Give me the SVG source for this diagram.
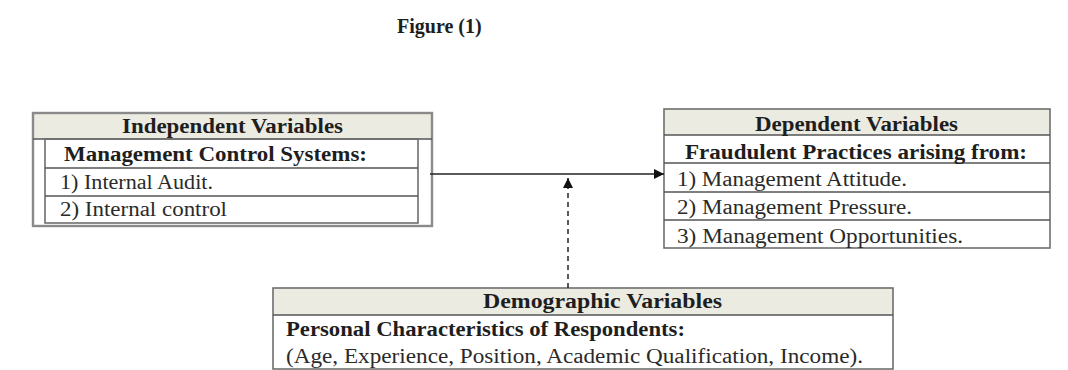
<svg xmlns="http://www.w3.org/2000/svg" width="1068" height="370" viewBox="0 0 1068 370">
<style>
.bg{fill:#fff}
.hdr{fill:#ecebe2}
.box{fill:none;stroke:#6e6e6e;stroke-width:1.6}
.outer{fill:none;stroke:#8a8a8a;stroke-width:2.4}
.ln{stroke:#555;stroke-width:1.4}
.t{font-family:"Liberation Serif","Times New Roman",serif;font-size:20px;fill:#2a2a2a}
.b{font-weight:bold;fill:#1e1e1e}
.conn{stroke:#222;stroke-width:1.5;fill:none}
</style>
<defs>
<marker id="ah" viewBox="0 0 10 10" refX="10" refY="5" markerWidth="12" markerHeight="10" markerUnits="userSpaceOnUse" orient="auto">
<path d="M0,0 L10,5 L0,10 Z" fill="#111"/>
</marker>
</defs>
<rect class="bg" width="1068" height="370"/>
<text class="t b" x="397" y="33" font-size="14.5">Figure (1)</text>

<g id="independent">
<rect class="hdr" x="33" y="113" width="399" height="26"/>
<rect class="outer" x="33" y="113" width="399" height="113"/>
<line class="ln" x1="33" y1="139" x2="432" y2="139"/>
<rect class="box" x="45" y="139" width="373" height="84" fill="#fff"/>
<line class="ln" x1="45" y1="168" x2="418" y2="168"/>
<line class="ln" x1="45" y1="196" x2="418" y2="196"/>
<text class="t b" x="122" y="133" textLength="221" lengthAdjust="spacingAndGlyphs">Independent Variables</text>
<text class="t b" x="64" y="161" textLength="303" lengthAdjust="spacingAndGlyphs">Management Control Systems:</text>
<text class="t" x="60" y="189" textLength="153" lengthAdjust="spacingAndGlyphs">1) Internal Audit.</text>
<text class="t" x="60" y="216" textLength="167" lengthAdjust="spacingAndGlyphs">2) Internal control</text>
</g>

<g id="dependent">
<rect class="hdr" x="664" y="109" width="386" height="26"/>
<rect class="box" x="664" y="109" width="386" height="139"/>
<line class="ln" x1="664" y1="135" x2="1050" y2="135"/>
<line class="ln" x1="664" y1="163" x2="1050" y2="163"/>
<line class="ln" x1="664" y1="192" x2="1050" y2="192"/>
<line class="ln" x1="664" y1="220" x2="1050" y2="220"/>
<text class="t b" x="755" y="131" textLength="203" lengthAdjust="spacingAndGlyphs">Dependent Variables</text>
<text class="t b" x="685" y="159" textLength="342" lengthAdjust="spacingAndGlyphs">Fraudulent Practices arising from:</text>
<text class="t" x="677" y="186" textLength="230" lengthAdjust="spacingAndGlyphs">1) Management Attitude.</text>
<text class="t" x="677" y="214" textLength="235" lengthAdjust="spacingAndGlyphs">2) Management Pressure.</text>
<text class="t" x="677" y="243" textLength="286" lengthAdjust="spacingAndGlyphs">3) Management Opportunities.</text>
</g>

<g id="demographic">
<rect class="hdr" x="273" y="288" width="620" height="27"/>
<rect class="box" x="273" y="288" width="620" height="81"/>
<line class="ln" x1="273" y1="315" x2="893" y2="315"/>
<text class="t b" x="483" y="308" textLength="239" lengthAdjust="spacingAndGlyphs">Demographic  Variables</text>
<text class="t b" x="286" y="336" textLength="399" lengthAdjust="spacingAndGlyphs">Personal Characteristics of Respondents:</text>
<text class="t" x="286" y="363" textLength="577" lengthAdjust="spacingAndGlyphs">(Age, Experience, Position, Academic Qualification,  Income).</text>
</g>

<g id="connectors">
<line class="conn" x1="430" y1="174" x2="664" y2="174" marker-end="url(#ah)"/>
<line class="conn" x1="568" y1="288" x2="568" y2="178" stroke-dasharray="5,4" marker-end="url(#ah)"/>
</g>
</svg>
